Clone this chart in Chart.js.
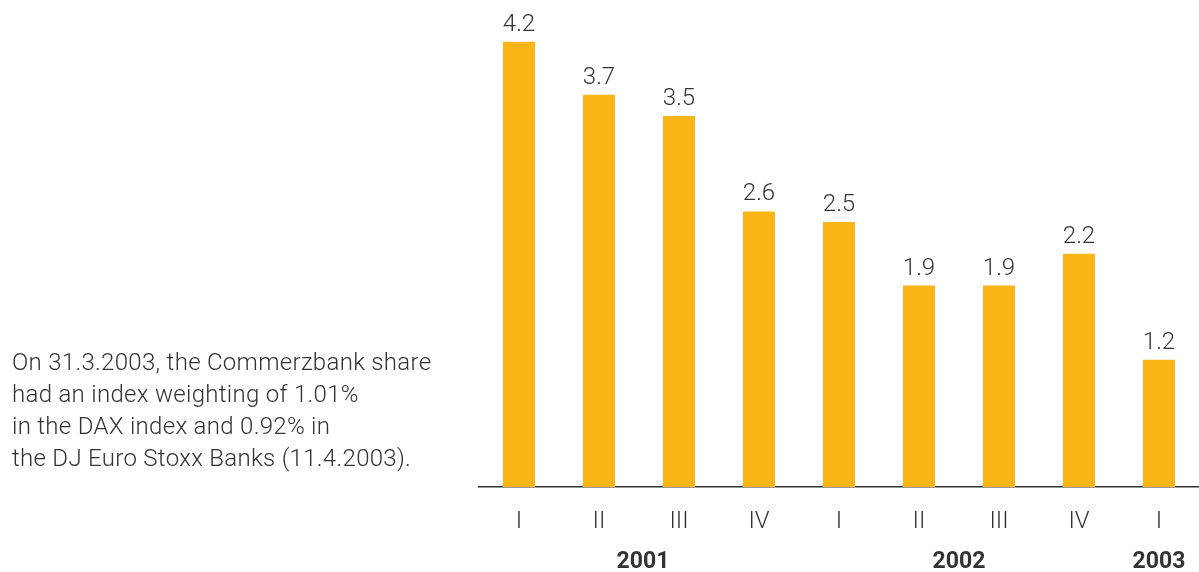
<!DOCTYPE html>
<html>
<head>
<meta charset="utf-8">
<script src="https://cdn.jsdelivr.net/npm/chart.js@4.4.1/dist/chart.umd.min.js"></script>
<style>
  html, body { margin: 0; padding: 0; background: #fff; }
  body { width: 1199px; height: 572px; position: relative; overflow: hidden; }
  #wrap { position: absolute; left: 0; top: 0; width: 1199px; height: 572px; }
  #note {
    position: absolute; left: 12px; top: 346px;
    font-family: Roboto, "Helvetica Neue", Arial, sans-serif; font-weight: 300;
    font-size: 24px; line-height: 32px; color: #333; white-space: nowrap;
    letter-spacing: 0.3px;
  }
</style>
</head>
<body>
<div id="wrap"><canvas id="chart"></canvas></div>
<div id="note">
  On 31.3.2003, the Commerzbank share<br>
  had an index weighting of 1.01%<br>
  in the DAX index and 0.92% in<br>
  the DJ Euro Stoxx Banks (11.4.2003).
</div>
<script>
// quarterly series, Q1 2001 .. Q1 2003
const quarters = ['I', 'II', 'III', 'IV', 'I', 'II', 'III', 'IV', 'I'];
const weights = [4.2, 3.7, 3.5, 2.6, 2.5, 1.9, 1.9, 2.2, 1.2];
const years = ['2001', '2002', '2003'];
const yearCenters = [1.55, 5.5, 8]; // in category units

const BAR = '#FBB516';
const INK = '#333333';
const FONT = 'Roboto, "Helvetica Neue", Arial, sans-serif';

// value labels over the bars + bold year row under the quarters
const labelsPlugin = {
    id: 'labels',
    afterDatasetsDraw(chart) {
        const ctx = chart.ctx;
        const meta = chart.getDatasetMeta(0);
        ctx.save();
        ctx.fillStyle = INK;
        ctx.textAlign = 'center';
        ctx.textBaseline = 'alphabetic';
        ctx.font = '300 24px ' + FONT;
        meta.data.forEach((bar, i) => {
            ctx.fillText(weights[i].toFixed(1), bar.x, bar.y - 11);
        });

        const xs = chart.scales.x;
        const step = xs.getPixelForValue(1) - xs.getPixelForValue(0);
        ctx.font = 'bold 23px ' + FONT;
        ctx.textBaseline = 'middle';
        years.forEach((y, i) => {
            const x = xs.getPixelForValue(0) + yearCenters[i] * step;
            ctx.fillText(y, x, 562);
        });
        ctx.restore();
    }
};

new Chart(document.getElementById('chart'), {
    type: 'bar',
    data: {
        labels: quarters,
        datasets: [{
            data: weights,
            backgroundColor: BAR,
            borderWidth: 0,
            barPercentage: 0.4,
            categoryPercentage: 1.0,
        }]
    },
    options: {
        responsive: true,
        maintainAspectRatio: false,
        animation: false,
        layout: { padding: { left: 479, right: 0, top: 10, bottom: 0 } },
        plugins: { legend: { display: false }, tooltip: { enabled: false } },
        scales: {
            x: {
                grid: { display: false, drawTicks: false },
                border: { display: true, color: INK, width: 1.5 },
                ticks: { color: INK, font: { family: FONT, size: 24, weight: 300 }, padding: 21 },
                afterFit: s => { s.height = 85; }
            },
            y: { display: false, min: 0, max: 4.5 }
        }
    },
    plugins: [labelsPlugin]
});
</script>
</body>
</html>
